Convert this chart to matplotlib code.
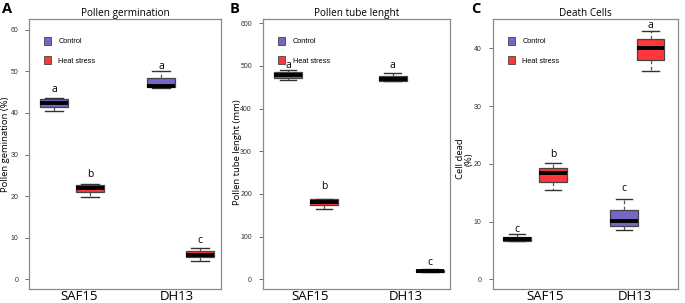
import matplotlib
matplotlib.use('Agg')
import matplotlib.pyplot as plt
from matplotlib.patches import Patch
from matplotlib.transforms import blended_transform_factory

# box statistics, order: SAF15 ctrl, SAF15 heat, DH13 ctrl, DH13 heat
germ_q1 = [41.4, 21.0, 46.2, 5.3]
germ_med = [42.4, 21.9, 46.6, 5.9]
germ_q3 = [43.3, 22.8, 48.4, 6.7]
germ_lo = [40.5, 19.7, 46.0, 4.5]
germ_hi = [43.7, 23.0, 50.2, 7.5]
germ_letters = ["a", "b", "a", "c"]
germ_letter_y = [45.7, 25.1, 51.2, 9.3]

tube_q1 = [471, 174, 465, 16]
tube_med = [479, 180, 469, 19]
tube_q3 = [486, 188, 476, 22]
tube_lo = [467, 165, 464, 16]
tube_hi = [490, 189, 484, 23]
tube_letters = ["a", "b", "a", "c"]
tube_letter_y = [502, 217, 500, 40]

dead_q1 = [6.7, 16.9, 9.3, 38.0]
dead_med = [7.05, 18.5, 10.1, 40.0]
dead_q3 = [7.4, 19.3, 12.1, 41.6]
dead_lo = [6.65, 15.5, 8.6, 36.1]
dead_hi = [7.8, 20.2, 14.0, 43.0]
dead_letters = ["c", "b", "c", "a"]
dead_letter_y = [8.7, 21.7, 15.7, 43.9]

groups = ["SAF15", "DH13"]
treatments = ["Control", "Heat stress"]
box_colors = ["#7866C6", "#FF363C", "#7866C6", "#FF363C"]

plt.rcParams['font.family'] = ['Open Sans', 'DejaVu Sans']

fig = plt.figure(figsize=(6.85, 3.03), dpi=100)


def panel(rect, q1, med, q3, lo, hi, letters, letter_y, pos, label_pos, ylim, yticks,
          title, ylabel, ylab_xy, legend_x, colors):
    ax = fig.add_axes(rect)
    stats = []
    for i in range(len(med)):
        stats.append({"med": med[i], "q1": q1[i], "q3": q3[i],
                      "whislo": lo[i], "whishi": hi[i], "fliers": []})
    bp = ax.bxp(stats, positions=pos, widths=1.5, patch_artist=True,
                showfliers=False,
                medianprops=dict(color="black", linewidth=2.8, solid_capstyle="butt"),
                whiskerprops=dict(color="#555555", linewidth=0.9, linestyle=(0, (3, 2))),
                capprops=dict(color="#333333", linewidth=1.0),
                boxprops=dict(edgecolor="#444444", linewidth=0.9))
    for b, c in zip(bp["boxes"], colors):
        b.set_facecolor(c)
    for cap in bp["caps"]:
        x0, x1 = cap.get_xdata()
        m = (x0 + x1) / 2
        cap.set_xdata([m - 0.45, m + 0.45])
    for p, t, y in zip(pos, letters, letter_y):
        ax.text(p, y, t, ha="center", va="center", fontsize=7.5)

    ax.set_xlim(0, 10)
    ax.set_ylim(*ylim)
    ax.set_xticks([])
    ax.set_yticks(yticks)
    ax.tick_params(axis="y", labelsize=5, length=3, pad=5, colors="#555555",
                   labelcolor="#333333", width=0.6)
    for lab in ax.get_yticklabels():
        lab.set_family("Liberation Sans")
    for s in ax.spines.values():
        s.set_color("#8a8a8a")
        s.set_linewidth(0.9)
    ax.set_title(title, fontsize=7.2, pad=2)
    ax.set_ylabel(ylabel, fontsize=6.8, linespacing=0.95)
    ax.yaxis.set_label_coords(*ylab_xy)

    tr = blended_transform_factory(ax.transData, ax.transAxes)
    for x, g in zip(label_pos, groups):
        ax.text(x, -0.028, g, transform=tr, ha="center", va="center", fontsize=9.5)

    handles = [Patch(facecolor=box_colors[0], edgecolor="#444444", linewidth=0.6),
               Patch(facecolor=box_colors[1], edgecolor="#444444", linewidth=0.6)]
    ax.legend(handles, treatments, loc="upper left",
              bbox_to_anchor=(legend_x, 0.945), frameon=False,
              handlelength=1.0, handleheight=1.3, handletextpad=1.0,
              labelspacing=1.5, borderaxespad=0,
              prop={"family": "Liberation Sans", "size": 5.3})
    return ax


bottom = (303 - 289.3) / 303
height = (289.3 - 19) / 303

panel([29.3 / 685, bottom, 191.7 / 685, height],
      germ_q1, germ_med, germ_q3, germ_lo, germ_hi, germ_letters, germ_letter_y,
      [1.29, 3.17, 6.87, 8.9], [2.59, 7.7], (-2.4, 62.6), [0, 10, 20, 30, 40, 50, 60],
      "Pollen germination", "Pollen gemination (%)", (-0.1, 0.537), 0.06, box_colors)

panel([263 / 685, bottom, 186.7 / 685, height],
      tube_q1, tube_med, tube_q3, tube_lo, tube_hi, tube_letters, tube_letter_y,
      [1.34, 3.27, 6.95, 8.94], [2.5, 7.63], (-23.5, 610), [0, 100, 200, 300, 400, 500, 600],
      "Pollen tube lenght", "Pollen tube lenght (mm)", (-0.115, 0.508), 0.065, box_colors)

panel([492.7 / 685, bottom, 185 / 685, height],
      dead_q1, dead_med, dead_q3, dead_lo, dead_hi, dead_letters, dead_letter_y,
      [1.31, 3.26, 7.1, 8.53], [2.83, 7.7], (-1.7, 45.1), [0, 10, 20, 30, 40],
      "Death Cells", "Cell dead\n(%)", (-0.105, 0.482), 0.065, box_colors)

for x, t in [(2 / 685, "A"), (230 / 685, "B"), (471 / 685, "C")]:
    fig.text(x, 1 - 2 / 303, t, ha="left", va="top", fontsize=10.5, fontweight="bold")

fig.savefig("out.png", dpi=100)
plt.close(fig)
